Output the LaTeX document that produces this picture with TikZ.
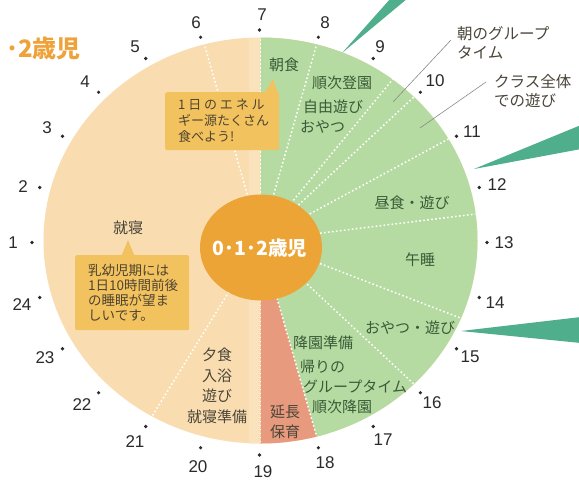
\documentclass[tikz,border=0pt]{standalone}
\usepackage{fontspec}
\setmainfont{Liberation Sans}
\newfontfamily\jp{Noto Sans CJK JP}
\usetikzlibrary{shapes.geometric}
\definecolor{beigec}{HTML}{F9DDB1}
\definecolor{beigelight}{HTML}{FAE2BC}
\definecolor{greenc}{HTML}{B6DBA2}
\definecolor{salmonc}{HTML}{E89A7F}
\definecolor{orangec}{HTML}{EBA435}
\definecolor{callc}{HTML}{F2C25F}
\definecolor{tealc}{HTML}{4FAE8C}
\definecolor{titlec}{HTML}{F0A23A}
\definecolor{greentext}{HTML}{3A5A36}
\definecolor{darktext}{HTML}{4A4538}
\definecolor{calltextc}{HTML}{4E4430}
\definecolor{numc}{HTML}{2B2B2B}
\definecolor{leaderc}{HTML}{8A8A8A}
\begin{document}
\begin{tikzpicture}[x=1pt,y=-1pt,
  hourdot/.style={circle,fill=numc,inner sep=0pt,minimum size=3.6pt},
  hournum/.style={font=\fontsize{17}{17}\selectfont,text=numc,inner sep=0pt},
  glabel/.style={font=\jp\fontsize{15}{15}\selectfont,text=greentext,inner sep=0pt},
  blabel/.style={font=\jp\fontsize{15}{20.5}\selectfont,text=darktext,inner sep=0pt,align=center},
  olabel/.style={font=\jp\fontsize{15.5}{18.5}\selectfont,text=darktext,inner sep=0pt,align=left},
  callbox/.style={fill=callc,rounded corners=2pt,font=\jp\fontsize{13}{16}\selectfont,text=calltextc,align=left,inner ysep=0pt,inner xsep=13pt},
  radial/.style={draw=white,line width=1.5pt,dash pattern=on 1.6pt off 2.4pt},
  leader/.style={draw=leaderc,line width=0.6pt}]
\useasboundingbox (0,0) rectangle (579,480);
\fill[white] (0,0) rectangle (579,480);

% teal pointers from outside
\fill[tealc] (342,53) -- (391,-2) -- (408,-2) -- cycle;
\fill[tealc] (474,169) -- (581,125) -- (581,149) -- cycle;
\fill[tealc] (461,331) -- (581,317) -- (581,343) -- cycle;

% clock face
\begin{scope}[shift={(260.5,240.5)},x=217pt,y=203pt]
  \fill[beigec] (0,0) ellipse [x radius=1,y radius=1];
  \begin{scope}
    \clip (0,0) ellipse [x radius=1,y radius=1];
    \fill[beigelight] ({-12/217},-1) rectangle (0,1);
  \end{scope}
  \fill[greenc] (0,0) -- (90:1) arc [start angle=90,end angle=-75,radius=1] -- cycle;
  \fill[salmonc] (0,0) -- (-75:1) arc [start angle=-75,end angle=-90,radius=1] -- cycle;
  \foreach \a in {105,90,75,52.5,45,30,7.5,-22.5,-45,-75,-90,-120}
    \draw[radial] (0,0) -- (\a:1);
\end{scope}

% hour dots
\begin{scope}[shift={(259.5,242.5)},x=227.5pt,y=212.5pt]
  \foreach \h in {1,...,24}
    \node[hourdot] (d\h) at ({195-15*\h}:1) {};
\end{scope}

% hour numbers
\foreach \h/\x/\y in {1/13/243, 2/23/187, 3/47/128, 4/85/82, 5/135/47, 6/196/23,
  7/262/15, 8/325/23, 9/380/47, 10/435/81, 11/472/132, 12/497/185, 13/504/243,
  14/495/303, 15/470/357, 16/432/403, 17/383/440, 18/325/463, 19/263/472,
  20/198/467, 21/135/442, 22/82/405, 23/45/358, 24/22/305}
  \node[hournum] (n\h) at (\x,\y) {\h};

% centre
\fill[orangec] (261,247.5) ellipse [x radius=61,y radius=53];
\node[inner sep=0pt,text=white,font=\jp\bfseries\fontsize{19.5}{19.5}\selectfont] (ctr) at (260,248) {0･1･2歳児};

% title (cut at the left)
\node[anchor=east,inner sep=0pt,text=titlec,font=\jp\bfseries\fontsize{24}{24}\selectfont] (title) at (81,48) {･2歳児};

% callout 1
\fill[callc] (264,94) -- (278,94) -- (273,79) -- cycle;
\node[callbox,anchor=north west,text width=88pt,minimum height=58pt] (cb1) at (165,92)
  {{\addfontfeature{LetterSpace=22}1日のエネル}\\ギー源たくさん\\食べよう!};

% callout 2
\fill[callc] (121,257) -- (135,257) -- (128,240) -- cycle;
\node[callbox,anchor=north west,text width=88pt,minimum height=75pt,font=\jp\fontsize{13.5}{15}\selectfont] (cb2) at (75,255)
  {乳幼児期には\\1日10時間前後\\の睡眠が望ま\\しいです。};

% green sector labels
\node[glabel] (asa) at (284,65) {朝食};
\node[glabel,anchor=west] (junji) at (312,83) {順次登園};
\node[glabel,anchor=west] (jiyu) at (303,107) {自由遊び};
\node[glabel,anchor=west] (oyatsu1) at (300,127) {おやつ};
\node[glabel] (chushoku) at (412,203) {昼食・遊び};
\node[glabel] (gosui) at (420,260) {午睡};
\node[glabel] (oyatsu2) at (410,328) {おやつ・遊び};
\node[glabel,anchor=west] (koen) at (293,343) {降園準備};
\node[glabel,anchor=west] (kaeri) at (300,367) {帰りの};
\node[glabel,anchor=west] (group) at (303,387) {グループタイム};
\node[glabel,anchor=west] (junkou) at (312,407) {順次降園};
\node[blabel] (encho) at (285,422) {延長\\保育};

% beige sector labels
\node[blabel] (yushoku) at (217,386) {夕食\\入浴\\遊び\\就寝準備};
\node[blabel] (shushin) at (128,228) {就寝};

% outside labels with leaders
\node[olabel,anchor=west] (asagroup) at (457,43) {朝のグループ\\タイム};
\node[olabel,anchor=west] (class) at (494,91) {クラス全体\\での遊び};
\coordinate (la1) at (451,40);
\coordinate (lb1) at (393,102);
\coordinate (la2) at (486,82);
\coordinate (lb2) at (420,128);
\draw[leader] (la1) -- (lb1);
\draw[leader] (la2) -- (lb2);
\end{tikzpicture}
\end{document}
